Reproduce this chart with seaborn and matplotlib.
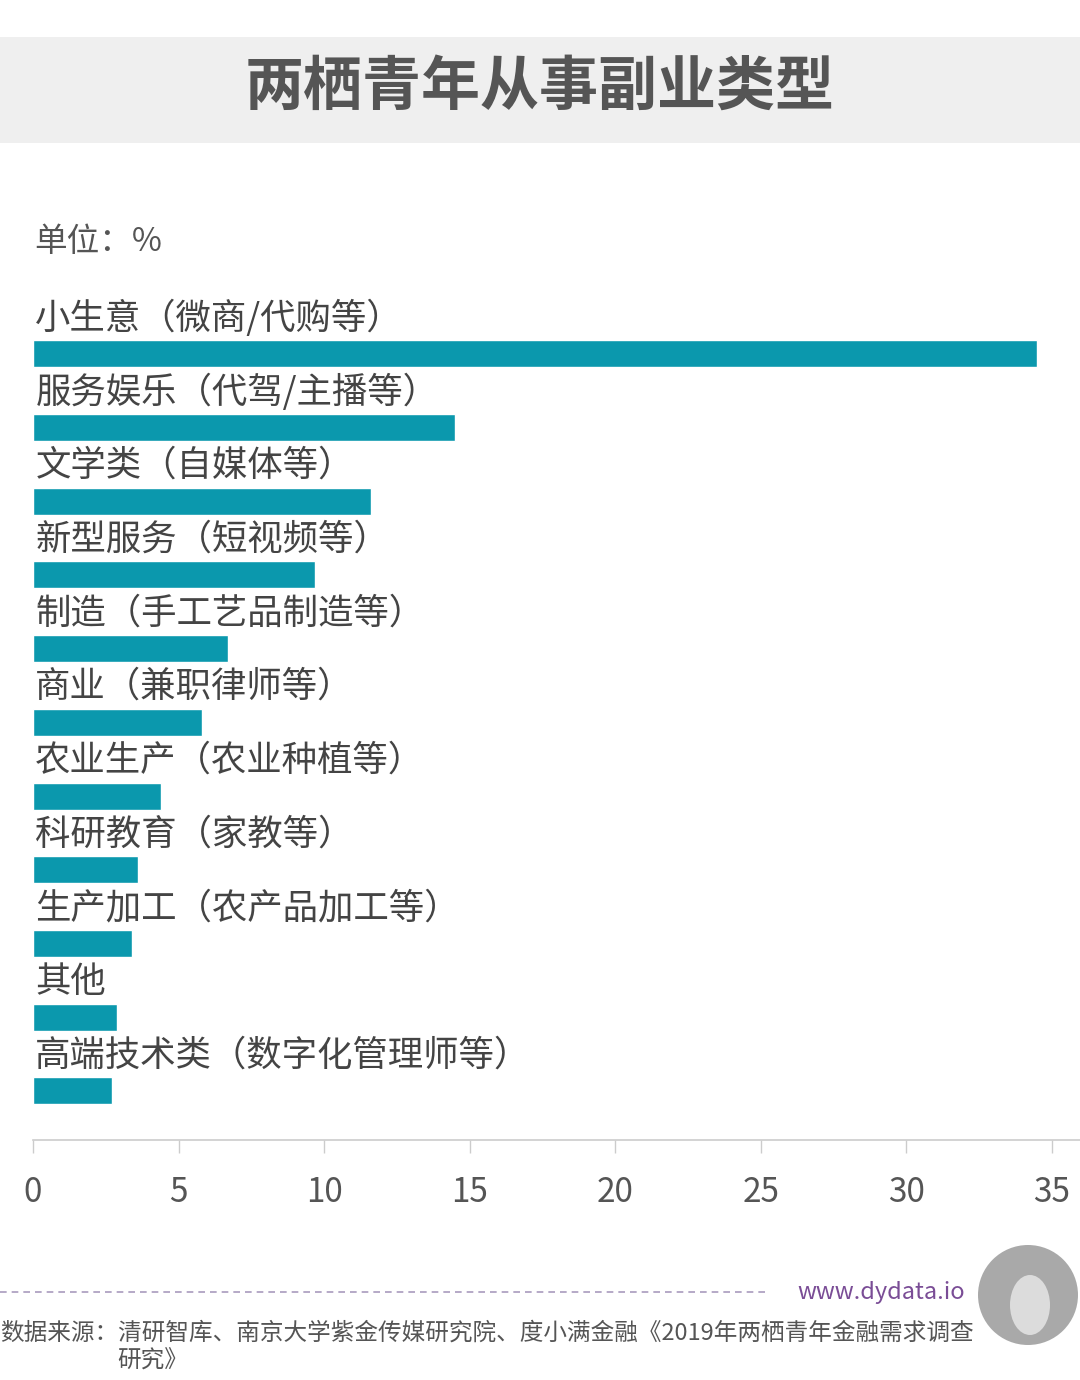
import pandas as pd
import matplotlib.pyplot as plt
import matplotlib.patches as mpatches
from matplotlib.lines import Line2D
import seaborn as sns

# data
categories = [
    "小生意（微商/代购等）",
    "服务娱乐（代驾/主播等）",
    "文学类（自媒体等）",
    "新型服务（短视频等）",
    "制造（手工艺品制造等）",
    "商业（兼职律师等）",
    "农业生产（农业种植等）",
    "科研教育（家教等）",
    "生产加工（农产品加工等）",
    "其他",
    "高端技术类（数字化管理师等）",
]
values = [34.5, 14.5, 11.6, 9.7, 6.7, 5.8, 4.4, 3.6, 3.4, 2.9, 2.7]
x_ticks = [0, 5, 10, 15, 20, 25, 30, 35]

title = "两栖青年从事副业类型"
unit = "单位：%"
source_1 = "数据来源：清研智库、南京大学紫金传媒研究院、度小满金融《2019年两栖青年金融需求调查"
source_2 = "研究》"

df = pd.DataFrame({"category": categories, "value": values})

sns.set_style("white")
plt.rcParams["font.family"] = ["Noto Sans CJK SC", "DejaVu Sans"]

W, H = 1080, 1380
fig = plt.figure(figsize=(W / 100, H / 100), dpi=100)
fig.patch.set_facecolor("white")

def fx(px):
    return px / W

def fy(py):
    return 1 - py / H

# title band
fig.patches.append(mpatches.Rectangle((0, fy(143)), 1, (143 - 37) / H,
                                      transform=fig.transFigure,
                                      facecolor="#efefef", edgecolor="none", zorder=0))
fig.text(0.5, fy(88), title, ha="center", va="center", fontsize=42.5,
         fontweight="bold", color="#555555")
fig.text(fx(34), fy(242), unit, ha="left", va="center", fontsize=23.5, color="#555555")

# axes
ax_top, ax_bot = 280, 1140
ax = fig.add_axes([fx(33), fy(ax_bot), 1 - fx(33), (ax_bot - ax_top) / H])
sns.barplot(data=df, x="value", y="category", orient="h", color="#0b98ad",
            width=0.366, saturation=1, ax=ax)
ax.set_xlim(0, 35.97)
ax.set_ylim(10.665, -1.0)
ax.set_xticks(x_ticks)
ax.set_xticklabels([str(t) for t in x_ticks])
ax.set_yticks([])
ax.set_xlabel("")
ax.set_ylabel("")
for s in ["top", "right", "left"]:
    ax.spines[s].set_visible(False)
ax.spines["bottom"].set_color("#cccccc")
ax.spines["bottom"].set_linewidth(1.2)
ax.tick_params(axis="x", bottom=True, direction="out", length=9, width=1,
               color="#cccccc", pad=16, labelsize=24, labelcolor="#555555")
ax.patch.set_alpha(0)

for i, name in enumerate(categories):
    ax.text(0.08, i - 0.48, name, ha="left", va="center", fontsize=25.5, color="#444444")

# footer
fig.lines.append(Line2D([0, fx(770)], [fy(1292), fy(1292)], transform=fig.transFigure,
                        color="#a99bbd", linewidth=1.2, linestyle=(0, (4, 3))))
fig.text(fx(965), fy(1293), "www.dydata.io", ha="right", va="center", fontsize=17,
         color="#7a4d96")
fig.text(0, fy(1333), source_1, ha="left", va="center", fontsize=17, color="#555555")
fig.text(fx(117), fy(1361), source_2, ha="left", va="center", fontsize=17, color="#555555")

# logo badge
fig.patches.append(mpatches.Ellipse((fx(1028), fy(1295)), 100 / W, 100 / H,
                                    transform=fig.transFigure, facecolor="#a9a9a9",
                                    edgecolor="none"))
fig.patches.append(mpatches.Ellipse((fx(1030), fy(1305)), 40 / W, 60 / H,
                                    transform=fig.transFigure, facecolor="#dcdcdc",
                                    edgecolor="none"))

plt.savefig("out.png", dpi=100, facecolor="white")
plt.close()
